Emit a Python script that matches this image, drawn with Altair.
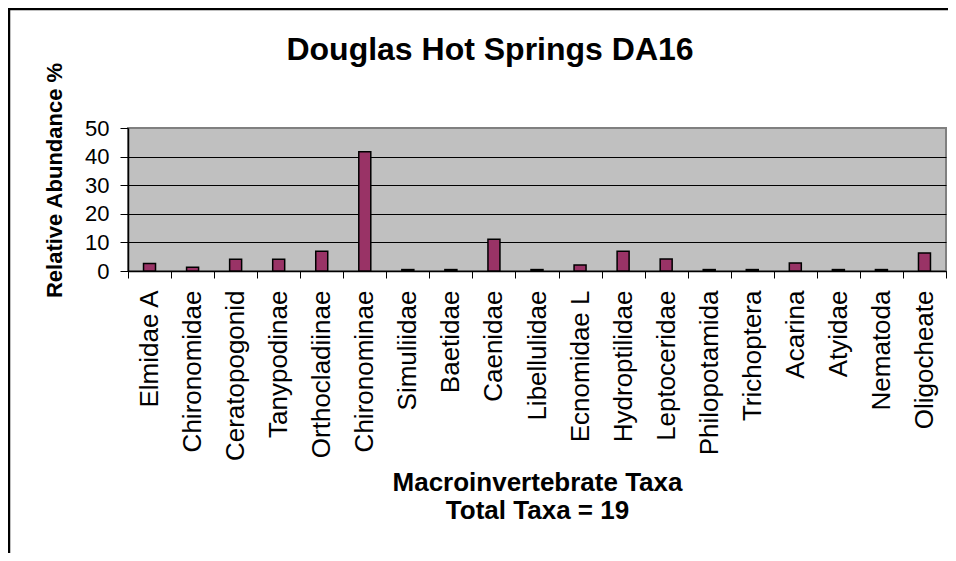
import altair as alt
import pandas as pd

taxa = ["Elmidae A", "Chironomidae", "Ceratopogonid", "Tanypodinae", "Orthocladiinae",
        "Chironominae", "Simuliidae", "Baetidae", "Caenidae", "Libellulidae",
        "Ecnomidae L", "Hydroptilidae", "Leptoceridae", "Philopotamida", "Trichoptera",
        "Acarina", "Atyidae", "Nematoda", "Oligocheate"]
abundance = [2.6, 1.3, 4.1, 4.1, 6.9, 41.7, 0.5, 0.5, 11.1, 0.5,
             2.1, 6.9, 4.2, 0.5, 0.5, 2.8, 0.5, 0.5, 6.3]
y_ticks = [0, 10, 20, 30, 40, 50]

chart_title = "Douglas Hot Springs DA16"
x_title = ["Macroinvertebrate Taxa", "Total Taxa = 19"]
y_title = "Relative Abundance %"

FONT = "Liberation Sans, Arial, sans-serif"
W, H = 818, 143
PAD_L, PAD_T = 120, 120
PAD_R, PAD_B = 2, 545 - 120 - 143

df = pd.DataFrame({"taxon": taxa, "abundance": abundance})
one = pd.DataFrame({"k": [0]})

bars = alt.Chart(df).mark_bar(size=12, color="#993366", stroke="black", strokeWidth=1.5).encode(
    x=alt.X("taxon:N", sort=taxa,
            scale=alt.Scale(paddingInner=0, paddingOuter=0),
            axis=alt.Axis(title=x_title, titleFont=FONT, titleFontSize=26, titleFontWeight="bold",
                          titleColor="black", titleX=W / 2, titleY=219, titleAlign="center",
                          titleBaseline="alphabetic", titleLineHeight=28, titleAngle=0,
                          labelAngle=270, labelFont=FONT, labelFontSize=26, labelColor="black",
                          labelPadding=12, labelLimit=400, tickSize=7, tickColor="black",
                          tickWidth=1, tickBand="extent", domainColor="black", domainWidth=1.5,
                          grid=False)),
    y=alt.Y("abundance:Q",
            scale=alt.Scale(domain=[0, 50], nice=False, zero=True),
            axis=alt.Axis(values=y_ticks, title=y_title, titleFont=FONT, titleFontSize=22,
                          titleFontWeight="bold", titleColor="black", titleAngle=270,
                          titleX=-67, titleY=52, titleAlign="center", titleBaseline="alphabetic",
                          labelFont=FONT, labelFontSize=22, labelColor="black", labelPadding=11,
                          tickSize=8, tickColor="black", tickWidth=1, domainColor="black",
                          domainWidth=1.5, grid=True, gridWidth=1,
                          gridColor={"condition": {"test": "datum.value === 50", "value": "#808080"},
                                     "value": "black"})),
)

title_mark = alt.Chart(one).mark_text(
    text=chart_title, font=FONT, fontSize=32, fontWeight="bold", color="black",
    align="center", baseline="alphabetic"
).encode(x=alt.value(490 - 128), y=alt.value(60 - 128))

frame_left = alt.Chart(one).mark_rule(color="black", strokeWidth=2.5).encode(
    x=alt.value(-119), y=alt.value(-120), y2=alt.value(H + PAD_B + 20))
frame_top = alt.Chart(one).mark_rule(color="black", strokeWidth=2.5).encode(
    x=alt.value(-120), x2=alt.value(W + PAD_R + 20), y=alt.value(-119))

chart = alt.layer(bars, title_mark, frame_left, frame_top).properties(
    width=W, height=H,
    autosize=alt.AutoSizeParams(type="none"),
    padding={"left": PAD_L, "top": PAD_T, "right": PAD_R, "bottom": PAD_B},
    background="white",
).configure_view(
    fill="#C0C0C0", stroke="#808080", strokeWidth=2
)

chart.save("out.html", embed_options={"renderer": "svg", "actions": False})
